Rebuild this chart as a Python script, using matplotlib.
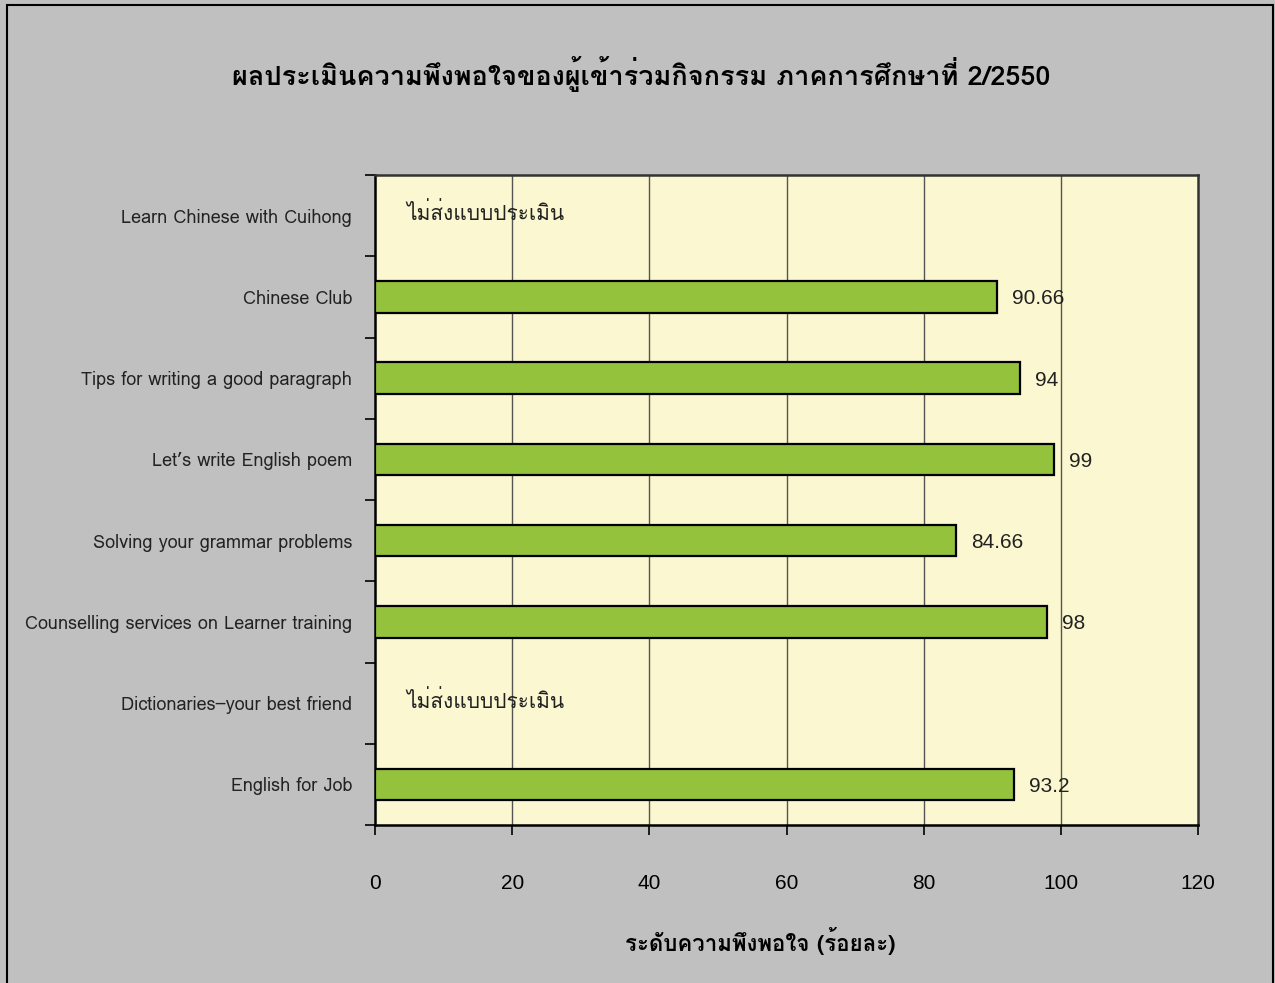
import matplotlib
matplotlib.use("Agg")
import matplotlib.pyplot as plt
from matplotlib import font_manager as fm
from matplotlib.ft2font import FT2Font
from matplotlib.patches import Rectangle
import numpy as np

# ---------------- data ----------------
categories = [
    "Learn Chinese with Cuihong",
    "Chinese Club",
    "Tips for writing a good paragraph",
    "Let\u2019s write English poem",
    "Solving your grammar problems",
    "Counselling services on Learner training",
    "Dictionaries\u2013your best friend",
    "English for Job",
]
values = [None, 90.66, 94, 99, 84.66, 98, None, 93.2]
value_labels = ["", "90.66", "94", "99", "84.66", "98", "", "93.2"]
missing_note = "ไม่ส่งแบบประเมิน"
title = "ผลประเมินความพึงพอใจของผู้เข้าร่วมกิจกรรม ภาคการศึกษาที่ 2/2550"
xlabel = "ระดับความพึงพอใจ (ร้อยละ)"
xticks = [0, 20, 40, 60, 80, 100, 120]

# ---------------- fonts ----------------
thai_font = None
for f in fm.fontManager.ttflist:
    try:
        cmap = FT2Font(f.fname).get_charmap()
        if 0x0E1C in cmap and 0x0E48 in cmap and 0x0E35 in cmap:
            thai_font = f.name
            break
    except Exception:
        pass
fam = [thai_font, "DejaVu Sans"] if thai_font else ["DejaVu Sans"]
num_fam = ["Liberation Sans", thai_font] if thai_font else ["Liberation Sans", "DejaVu Sans"]
plt.rcParams["font.family"] = fam

# ---------------- figure ----------------
W, H = 1275, 983
fig = plt.figure(figsize=(W / 100, H / 100), dpi=100, facecolor="#C0C0C0")
ax = fig.add_axes([375 / W, 1 - 825 / H, (1198 - 375) / W, (825 - 175) / H])
ax.set_facecolor("#FBF7D0")

n = len(categories)
ypos = np.arange(n)
for y, v in zip(ypos, values):
    if v is not None:
        ax.barh(y, v, height=0.39, color="#95C23D", edgecolor="black", linewidth=1.6, zorder=3)

ax.set_xlim(0, 120)
ax.set_ylim(n - 0.5, -0.5)

for y, v, lab in zip(ypos, values, value_labels):
    if v is not None:
        ax.annotate(lab, xy=(v, y), xytext=(15, -2), textcoords="offset pixels",
                    ha="left", va="center", fontsize=15, family=num_fam, color="#222222", zorder=4)
    else:
        ax.text(4.5, y - 0.03, missing_note, ha="left", va="center", fontsize=15,
                color="#222222", zorder=4)

# grid
for xv in xticks[1:-1]:
    ax.axvline(xv, color="#555555", linewidth=1.0, zorder=1)

# ticks
ax.set_xticks(xticks)
ax.set_xticklabels([str(t) for t in xticks], fontsize=15, family=num_fam)
ax.tick_params(axis="x", direction="out", length=7, width=1.2, pad=28, colors="black")
ax.set_yticks(ypos)
ax.set_yticklabels(categories, fontsize=13, color="#222222")
ax.tick_params(axis="y", which="major", length=0, pad=16.5)
ax.set_yticks(np.arange(n + 1) - 0.5, minor=True)
ax.tick_params(axis="y", which="minor", direction="out", length=7, width=1.2, colors="black")

for s in ["left", "bottom"]:
    ax.spines[s].set_linewidth(1.8)
    ax.spines[s].set_color("black")
for s in ["top", "right"]:
    ax.spines[s].set_linewidth(1.8)
    ax.spines[s].set_color("#333333")

ax.set_xlabel(xlabel, fontsize=16, fontweight="bold")
ax.xaxis.set_label_coords((760 - 375) / (1198 - 375), -(941 - 825) / (825 - 175))
ax.xaxis.label.set_va("center")

fig.text(641 / W, 1 - 74 / H, title, ha="center", va="center", fontsize=19.5, fontweight="bold")

# outer border
fig.patches.append(Rectangle((7 / W, -0.02), (1273 - 7) / W, 1.02 - 5 / H, transform=fig.transFigure,
                             fill=False, edgecolor="black", linewidth=1.5))

fig.savefig("out.png", dpi=100, facecolor=fig.get_facecolor())
